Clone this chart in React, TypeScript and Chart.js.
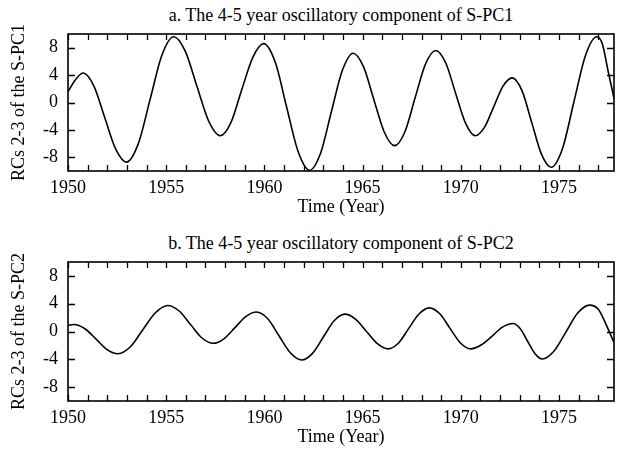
import { useEffect, useRef } from 'react';
import { Chart, registerables } from 'chart.js';

Chart.register(...registerables);

// Panel a: RCs 2-3 of S-PC1
const yearsA = [1950.0, 1950.4, 1950.77, 1951.32, 1951.87, 1952.43, 1952.98, 1953.58, 1954.18, 1954.78, 1955.38, 1955.97, 1956.56, 1957.16, 1957.75, 1958.3, 1958.85, 1959.41, 1959.96, 1960.55, 1961.13, 1961.72, 1962.3, 1962.86, 1963.41, 1963.97, 1964.52, 1965.05, 1965.57, 1966.1, 1966.63, 1967.15, 1967.67, 1968.2, 1968.72, 1969.23, 1969.73, 1970.24, 1970.74, 1971.21, 1971.68, 1972.15, 1972.62, 1973.12, 1973.61, 1974.1, 1974.6, 1975.18, 1975.76, 1976.34, 1976.92, 1977.2, 1977.5, 1977.8];
const valuesA = [1.6, 3.4, 4.3, 2.4, -2.2, -6.8, -8.7, -6.0, 0.45, 6.9, 9.6, 7.5, 2.4, -2.7, -4.85, -2.9, 1.9, 6.6, 8.6, 5.9, -0.65, -7.2, -9.9, -7.4, -1.35, 4.7, 7.2, 5.2, 0.45, -4.3, -6.3, -4.3, 0.65, 5.6, 7.6, 5.8, 1.4, -3.0, -4.85, -3.6, -0.6, 2.4, 3.6, 1.7, -2.9, -7.5, -9.45, -6.7, 0.1, 6.8, 9.6, 8.6, 4.6, 0.6];

// Panel b: RCs 2-3 of S-PC2
const yearsB = [1950.0, 1950.3, 1950.86, 1951.43, 1951.99, 1952.55, 1953.18, 1953.82, 1954.45, 1955.08, 1955.66, 1956.24, 1956.81, 1957.39, 1957.94, 1958.5, 1959.05, 1959.6, 1960.18, 1960.75, 1961.33, 1961.9, 1962.45, 1963.0, 1963.55, 1964.1, 1964.65, 1965.2, 1965.75, 1966.3, 1966.83, 1967.35, 1967.88, 1968.4, 1968.93, 1969.45, 1969.98, 1970.5, 1971.03, 1971.58, 1972.1, 1972.65, 1973.03, 1973.4, 1973.78, 1974.15, 1974.75, 1975.35, 1975.95, 1976.55, 1977.0, 1977.4, 1977.8];
const valuesB = [0.9, 1.0, 0.4, -1.1, -2.6, -3.2, -2.2, 0.3, 2.7, 3.75, 2.95, 1.0, -0.9, -1.7, -1.05, 0.55, 2.15, 2.8, 1.8, -0.65, -3.1, -4.1, -3.15, -0.8, 1.55, 2.5, 1.75, 0.0, -1.75, -2.5, -1.65, 0.45, 2.55, 3.4, 2.55, 0.45, -1.65, -2.5, -1.95, -0.7, 0.6, 1.15, 0.4, -1.4, -3.2, -3.95, -2.8, -0.1, 2.65, 3.8, 3.2, 1.0, -1.6];

const xTickYears = [1950, 1951, 1952, 1953, 1954, 1955, 1956, 1957, 1958, 1959, 1960, 1961, 1962, 1963, 1964, 1965, 1966, 1967, 1968, 1969, 1970, 1971, 1972, 1973, 1974, 1975, 1976, 1977];
const yTickValues = [-8, -4, 0, 4, 8];
const xMin = 1950;
const xMax = 1977.8;
const yMin = -10;
const yMax = 10;

const titleA = 'a. The 4-5 year oscillatory component of S-PC1';
const titleB = 'b. The 4-5 year oscillatory component of S-PC2';
const yTitleA = 'RCs 2-3 of the S-PC1';
const yTitleB = 'RCs 2-3 of the S-PC2';
const xTitle = 'Time (Year)';

const FONT = "'Liberation Serif', 'Times New Roman', serif";
const FS = 18;

const framePlugin = {
  id: 'frameTicks',
  afterDraw(chart: any) {
    const { ctx, chartArea, scales } = chart;
    const { left, right, top, bottom } = chartArea;
    ctx.save();
    ctx.strokeStyle = '#000';
    ctx.lineWidth = 1.3;
    ctx.beginPath();
    for (const t of scales.x.ticks) {
      const px = Math.round(scales.x.getPixelForValue(t.value)) + 0.5;
      ctx.moveTo(px, bottom);
      ctx.lineTo(px, bottom - 6);
      ctx.moveTo(px, top);
      ctx.lineTo(px, top + 6);
    }
    for (const t of scales.y.ticks) {
      const py = Math.round(scales.y.getPixelForValue(t.value)) + 0.5;
      ctx.moveTo(left, py);
      ctx.lineTo(left + 7, py);
      ctx.moveTo(right, py);
      ctx.lineTo(right - 7, py);
    }
    ctx.stroke();
    ctx.lineWidth = 1.6;
    ctx.strokeRect(left, top, right - left, bottom - top);
    ctx.restore();
  },
};

type PanelProps = {
  years: number[];
  values: number[];
  title: string;
  yTitle: string;
  height: number;
  plotTop: number;
  plotBottom: number;
  top: number;
};

function Panel({ years, values, title, yTitle, height, plotTop, plotBottom, top }: PanelProps) {
  const ref = useRef<HTMLCanvasElement | null>(null);
  useEffect(() => {
    if (!ref.current) return;
    const lh = FS * 1.2;
    const chart = new Chart(ref.current, {
      type: 'line',
      data: {
        datasets: [
          {
            data: years.map((x, i) => ({ x, y: values[i] })),
            borderColor: '#000',
            borderWidth: 1.6,
            pointRadius: 0,
            fill: false,
            cubicInterpolationMode: 'monotone',
          },
        ],
      },
      options: {
        animation: false,
        responsive: false,
        maintainAspectRatio: false,
        layout: { padding: { left: 0, right: 6, top: plotTop, bottom: 0 } },
        plugins: {
          legend: { display: false },
          tooltip: { enabled: false },
          title: { display: false },
        },
        scales: {
          x: {
            type: 'linear',
            min: xMin,
            max: xMax,
            afterBuildTicks: (scale: any) => {
              scale.ticks = xTickYears.map((v) => ({ value: v }));
            },
            afterFit: (scale: any) => {
              scale.height = height - plotBottom;
            },
            ticks: {
              autoSkip: false,
              maxRotation: 0,
              color: '#000',
              padding: 6,
              font: { family: FONT, size: FS },
              callback: (v: any) => (Number(v) % 5 === 0 ? String(v) : ''),
            },
            grid: { display: false, drawTicks: false },
            border: { display: false },
            title: {
              display: true,
              text: xTitle,
              color: '#000',
              font: { family: FONT, size: FS },
              padding: { top: 0, bottom: height - (plotBottom + 36) - lh / 2 },
            },
          },
          y: {
            type: 'linear',
            min: yMin,
            max: yMax,
            afterBuildTicks: (scale: any) => {
              scale.ticks = yTickValues.map((v) => ({ value: v }));
            },
            afterFit: (scale: any) => {
              scale.width = 68;
            },
            ticks: {
              color: '#000',
              padding: 10,
              font: { family: FONT, size: FS },
              callback: (v: any) => String(v),
            },
            grid: { display: false, drawTicks: false },
            border: { display: false },
            title: {
              display: true,
              text: yTitle,
              color: '#000',
              font: { family: FONT, size: FS },
              padding: { top: 8, bottom: 0 },
            },
          },
        },
      } as any,
      plugins: [framePlugin],
    });
    return () => chart.destroy();
  }, []);
  return (
    <div style={{ position: 'absolute', left: 0, top, width: 620, height }}>
      <div
        style={{
          position: 'absolute',
          left: 68,
          width: 546,
          top: plotTop - 29,
          textAlign: 'center',
          fontFamily: FONT,
          fontSize: FS,
          lineHeight: '20px',
          color: '#000',
          whiteSpace: 'nowrap',
        }}
      >
        {title}
      </div>
      <canvas
        ref={ref}
        width={620}
        height={height}
        style={{ position: 'absolute', left: 0, top: 0, width: 620, height }}
      />
    </div>
  );
}

export default function App() {
  return (
    <div style={{ position: 'fixed', left: 0, top: 0, width: 620, height: 450, background: '#fff' }}>
      <Panel years={yearsA} values={valuesA} title={titleA} yTitle={yTitleA} height={225} plotTop={34} plotBottom={171} top={0} />
      <Panel years={yearsB} values={valuesB} title={titleB} yTitle={yTitleB} height={221} plotTop={33} plotBottom={172} top={229} />
    </div>
  );
}
